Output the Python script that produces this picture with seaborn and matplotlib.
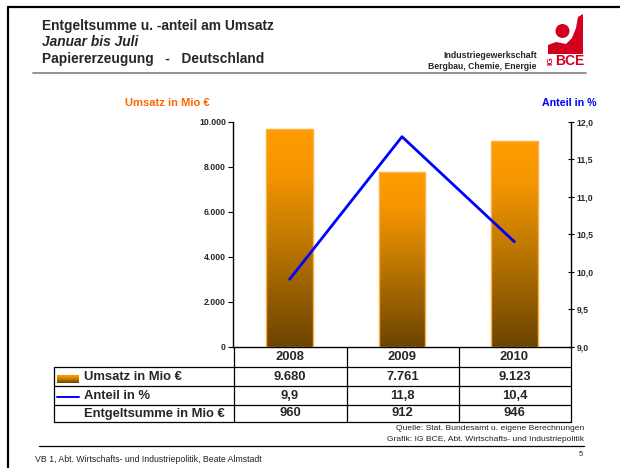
import matplotlib
matplotlib.use('Agg')
import matplotlib.pyplot as plt
from matplotlib.colors import LinearSegmentedColormap
from matplotlib.patches import Polygon, Circle
import seaborn as sns
import numpy as np
import pandas as pd

# Data
years = ['2008', '2009', '2010']
umsatz = [9680, 7761, 9123]          # Umsatz in Mio EUR
anteil = [9.9, 11.8, 10.4]           # Anteil in %
entgelt = [960, 912, 946]            # Entgeltsumme in Mio EUR
left_ticks = [0, 2000, 4000, 6000, 8000, 10000]
right_ticks = [9.0, 9.5, 10.0, 10.5, 11.0, 11.5, 12.0]

W, H = 620, 468
sns.set_theme(style='white')
plt.rcParams['font.family'] = ['Liberation Sans', 'DejaVu Sans']

ORANGE = '#FF9900'
BLUE = '#0000FF'
bar_cmap = LinearSegmentedColormap.from_list(
    'bar', [(0.0, '#6B4400'), (0.5, '#C27A00'), (0.8, '#F59600'), (1.0, '#FF9C00')])


def de_int(v):
    return f'{v:,}'.replace(',', '.')


def de_dec(v):
    return f'{v:.1f}'.replace('.', ',')


fig = plt.figure(figsize=(W / 100, H / 100), dpi=100)

# page overlay in pixel coordinates
bg = fig.add_axes([0, 0, 1, 1])
bg.set_xlim(0, W)
bg.set_ylim(H, 0)
bg.axis('off')

# frame
bg.plot([7.5, 7.5], [6.5, H + 5], color='black', lw=1.6)
bg.plot([7.5, W + 5], [6.5, 6.5], color='black', lw=1.6)

# header
bg.text(42, 26, 'Entgeltsumme u. -anteil am Umsatz', fontsize=9.9, fontweight='bold', va='center')
bg.text(42, 42, 'Januar bis Juli', fontsize=9.9, fontweight='bold', style='italic', va='center')
bg.text(42, 59, 'Papiererzeugung   -   Deutschland', fontsize=9.9, fontweight='bold', va='center')
bg.plot([33, 586], [72.5, 72.5], color='#808080', lw=1.2)
bg.text(537, 55, 'Industriegewerkschaft', fontsize=6.3, fontweight='bold', ha='right', va='center')
bg.text(537, 66.5, 'Bergbau, Chemie, Energie', fontsize=6.2, fontweight='bold', ha='right', va='center')

# logo
logo_red = '#D2001E'
bg.add_patch(Polygon([(548, 54), (548, 45), (556, 42), (566, 44), (572, 38), (576, 28),
                      (578, 17), (583, 14), (583, 54)], closed=True, color=logo_red, lw=0))
bg.add_patch(Circle((562.5, 31), 7, color=logo_red, lw=0))
bg.text(584, 61, 'BCE', fontsize=10, fontweight='bold', color=logo_red, ha='right', va='center')
bg.text(551, 61, 'IG', fontsize=6, fontweight='bold', color=logo_red, rotation=90,
        ha='center', va='center')

# axis titles
bg.text(167, 103.5, 'Umsatz in Mio €', fontsize=8, fontweight='bold', color='#FF6600',
        ha='center', va='center')
bg.text(569, 103.5, 'Anteil in %', fontsize=7.7, fontweight='bold', color=BLUE,
        ha='center', va='center')

# chart
x0, x1, y_top, y_zero = 233.5, 570.5, 121.7, 346.7
ax = fig.add_axes([x0 / W, (H - y_zero) / H, (x1 - x0) / W, (y_zero - y_top) / H])
ax.set_facecolor('none')
df = pd.DataFrame({'Jahr': years, 'Umsatz': umsatz, 'Anteil': anteil})
sns.barplot(data=df, x='Jahr', y='Umsatz', ax=ax, width=0.415, color=ORANGE)
grad = np.linspace(0, 1, 256).reshape(-1, 1)
for p in ax.patches:
    bx, by, bw, bh = p.get_x(), p.get_y(), p.get_width(), p.get_height()
    ax.imshow(grad, extent=[bx, bx + bw, by, by + bh], origin='lower', aspect='auto',
              cmap=bar_cmap, zorder=2)
    p.set_facecolor('none')
    p.set_edgecolor('#FFB040')
    p.set_linewidth(1.0)
    p.set_zorder(3)
ax.set_xlim(-0.5, len(years) - 0.5)
ax.set_ylim(0, 10000)
ax.set_yticks(left_ticks)
ax.set_yticklabels([de_int(v) for v in left_ticks], fontsize=6.2, fontweight='bold')
ax.set_xticks([])
ax.set_xlabel('')
ax.set_ylabel('')
ax.tick_params(axis='y', direction='out', length=3.5, width=0.8, color='black', pad=2)
for s in ['top', 'right']:
    ax.spines[s].set_visible(False)
for s in ['left', 'bottom']:
    ax.spines[s].set_color('black')
    ax.spines[s].set_linewidth(1.0)

ax2 = ax.twinx()
sns.lineplot(x=np.arange(len(years)), y=anteil, ax=ax2, color=BLUE, lw=2)
ax2.set_ylim(9, 12)
ax2.set_yticks(right_ticks)
ax2.set_yticklabels([de_dec(v) for v in right_ticks], fontsize=6.2, fontweight='bold')
ax2.tick_params(axis='y', direction='inout', length=5, width=0.8, color='black', pad=2)
ax2.set_ylabel('')
for s in ['top', 'left', 'bottom']:
    ax2.spines[s].set_visible(False)
ax2.spines['right'].set_color('black')
ax2.spines['right'].set_linewidth(1.0)
ax2.grid(False)
ax.grid(False)

# data table
tl, tr = 53.5, 570.5
col_edges = [233.5, 346.5, 458.5, 570.5]
row_lines = [367, 386, 404.5, 421.5]
for y in row_lines:
    bg.plot([tl, tr], [y, y], color='black', lw=0.9)
bg.plot([tl, tl], [row_lines[0], row_lines[-1]], color='black', lw=0.9)
for xe in col_edges:
    bg.plot([xe, xe], [y_zero, row_lines[-1]], color='black', lw=0.9)
centers = [(col_edges[i] + col_edges[i + 1]) / 2 for i in range(len(years))]
row_y = [357, 377.5, 396, 413.5]
rows = [years, [de_int(v) for v in umsatz], [de_dec(v) for v in anteil],
        [de_int(v) for v in entgelt]]
for yy, vals in zip(row_y, rows):
    for cx, v in zip(centers, vals):
        bg.text(cx, yy, v, fontsize=9.4, fontweight='bold', ha='center', va='center')
labels = ['Umsatz in Mio €', 'Anteil in %', 'Entgeltsumme in Mio €']
for yy, lab in zip(row_y[1:], labels):
    bg.text(83.5, yy, lab, fontsize=9.4, fontweight='bold', ha='left', va='center')
bg.imshow(grad, extent=[57, 79, 383, 375], origin='lower', aspect='auto', cmap=bar_cmap)
bg.set_xlim(0, W)
bg.set_ylim(H, 0)
bg.plot([57, 79], [396.5, 396.5], color=BLUE, lw=1.4)

# sources and footer
bg.text(584, 428.5, 'Quelle: Stat. Bundesamt u. eigene Berechnungen', fontsize=6.1,
        ha='right', va='center', color='#222222')
bg.text(584, 439.5, 'Grafik: IG BCE, Abt. Wirtschafts- und Industriepolitik', fontsize=6.1,
        ha='right', va='center', color='#222222')
bg.plot([39, 584], [446, 446], color='black', lw=0.9)
bg.text(35, 459, 'VB 1, Abt. Wirtschafts- und Industriepolitik, Beate Almstadt', fontsize=6.3,
        ha='left', va='center', color='#222222')
bg.text(583, 454, '5', fontsize=5.5, ha='right', va='center', color='#222222')

fig.savefig('out.png', dpi=100)
